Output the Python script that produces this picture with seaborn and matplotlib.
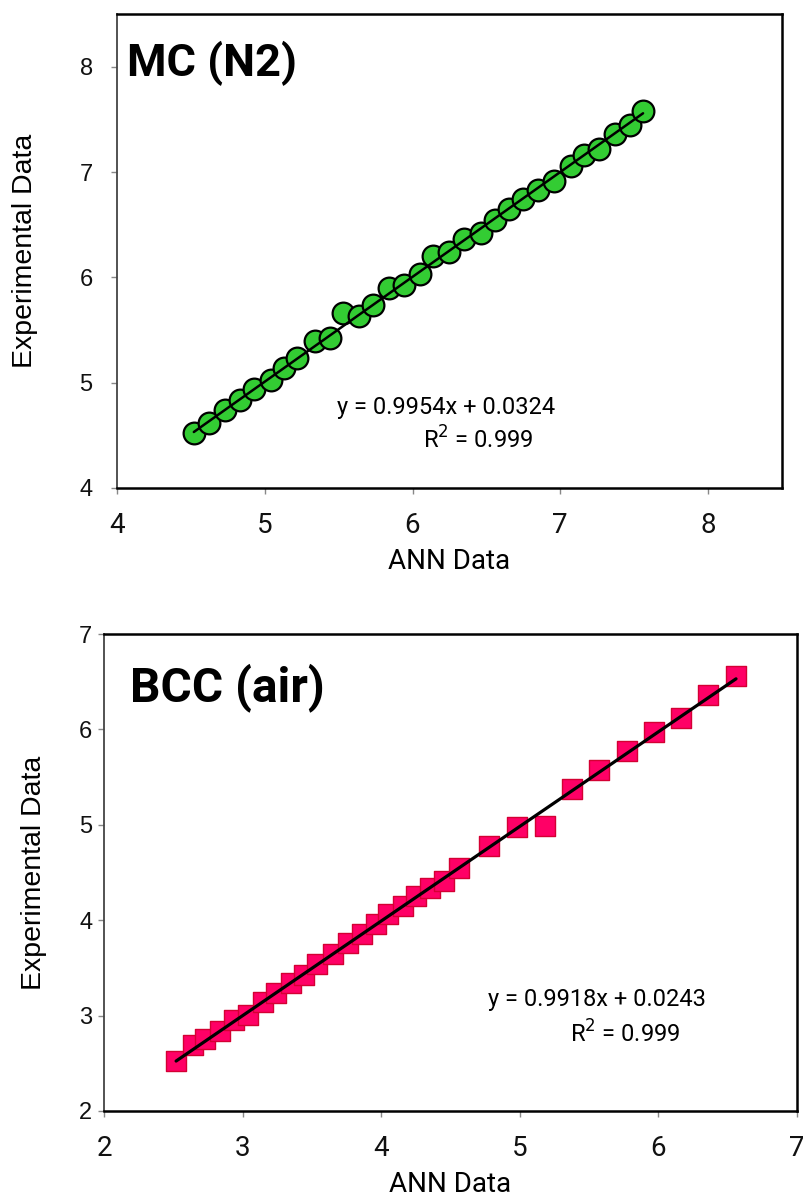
import numpy as np
import pandas as pd
import seaborn as sns
import matplotlib
matplotlib.use("Agg")
import matplotlib.pyplot as plt
from matplotlib import font_manager

# ---- MC (N2) data ----
mc_ann = [4.52, 4.62, 4.73, 4.83, 4.93, 5.04, 5.13, 5.22, 5.34, 5.44, 5.53,
          5.64, 5.73, 5.84, 5.94, 6.05, 6.14, 6.25, 6.35, 6.46, 6.56, 6.65,
          6.75, 6.85, 6.96, 7.07, 7.16, 7.26, 7.37, 7.47, 7.56]
mc_exp = [4.52, 4.62, 4.74, 4.84, 4.94, 5.03, 5.14, 5.23, 5.40, 5.42, 5.66,
          5.63, 5.74, 5.90, 5.93, 6.03, 6.20, 6.24, 6.36, 6.42, 6.54, 6.65,
          6.74, 6.83, 6.91, 7.06, 7.16, 7.22, 7.36, 7.45, 7.58]
mc_slope, mc_intercept, mc_r2 = 0.9954, 0.0324, 0.999

# ---- BCC (air) data ----
bcc_ann = [2.52, 2.64, 2.73, 2.84, 2.94, 3.04, 3.15, 3.24, 3.35, 3.44, 3.54,
           3.65, 3.76, 3.86, 3.96, 4.05, 4.16, 4.25, 4.35, 4.45, 4.56, 4.78,
           4.98, 5.18, 5.38, 5.57, 5.77, 5.97, 6.16, 6.36, 6.56]
bcc_exp = [2.52, 2.69, 2.75, 2.84, 2.95, 3.01, 3.14, 3.24, 3.34, 3.43, 3.54,
           3.65, 3.76, 3.86, 3.96, 4.07, 4.15, 4.25, 4.34, 4.41, 4.55, 4.78,
           4.98, 4.99, 5.38, 5.57, 5.77, 5.97, 6.12, 6.36, 6.56]
bcc_slope, bcc_intercept, bcc_r2 = 0.9918, 0.0243, 0.999

mc_ticks = [4, 5, 6, 7, 8]
bcc_ticks = [2, 3, 4, 5, 6, 7]

sns.set_theme(style="white")

installed = {f.name for f in font_manager.fontManager.ttflist}
narrow = "Liberation Sans Narrow" if "Liberation Sans Narrow" in installed else "Roboto"
plt.rcParams["font.family"] = ["Liberation Sans", "DejaVu Sans"]
plt.rcParams["text.color"] = "black"
plt.rcParams["axes.labelcolor"] = "black"
plt.rcParams["xtick.labelcolor"] = "#111111"
plt.rcParams["ytick.labelcolor"] = "#111111"

fig = plt.figure(figsize=(8.04, 11.99), dpi=100)
ax1 = fig.add_axes([0.1455, 0.593, 0.8271, 0.3953])
ax2 = fig.add_axes([0.1294, 0.0734, 0.8619, 0.3978])


def style_axes(ax, xlim, ylim, xticks, yticks, ypad, ylabelpad):
    ax.set_xlim(*xlim)
    ax.set_ylim(*ylim)
    ax.set_xticks(xticks)
    ax.set_yticks(yticks)
    ax.set_xticklabels([str(t) for t in xticks], fontsize=20, family=narrow)
    ax.set_yticklabels([str(t) for t in yticks], fontsize=17)
    ax.tick_params(axis="both", which="major", direction="out", length=4.5,
                   width=1.0, color="#888888", bottom=True, left=True)
    ax.tick_params(axis="x", pad=13)
    ax.tick_params(axis="y", pad=ypad)
    for side in ["top", "right", "bottom"]:
        ax.spines[side].set_color("black")
        ax.spines[side].set_linewidth(1.8)
    ax.spines["left"].set_color("#444444")
    ax.spines["left"].set_linewidth(1.3)
    ax.set_xlabel("ANN Data", fontsize=20, family=narrow, labelpad=6)
    ax.set_ylabel("Experimental Data", fontsize=20.5, labelpad=ylabelpad)


# ---- top panel ----
df1 = pd.DataFrame({"ann": mc_ann, "exp": mc_exp})
sns.scatterplot(data=df1, x="ann", y="exp", ax=ax1, marker="o", s=245,
                color="#33CC33", edgecolor="black", linewidth=1.6, zorder=3)
fit1 = pd.DataFrame({"ann": [min(mc_ann), max(mc_ann)]})
fit1["exp"] = mc_slope * fit1["ann"] + mc_intercept
sns.lineplot(data=fit1, x="ann", y="exp", ax=ax1, color="black",
             linewidth=1.8, zorder=4)
style_axes(ax1, (4, 8.5), (4, 8.5), mc_ticks, mc_ticks, ypad=13, ylabelpad=30)
ax1.text(0.015, 0.895, "MC (N2)", transform=ax1.transAxes, fontsize=32.5,
         fontweight="bold", family="Roboto", ha="left", va="center")
ax1.text(0.495, 0.169, f"y = {mc_slope}x + {mc_intercept}",
         transform=ax1.transAxes, fontsize=17, family=narrow,
         ha="center", va="center")
ax1.text(0.543, 0.101, f"R$^2$ = {mc_r2}", transform=ax1.transAxes,
         fontsize=17, family=narrow, ha="center", va="center")

# ---- bottom panel ----
df2 = pd.DataFrame({"ann": bcc_ann, "exp": bcc_exp})
sns.scatterplot(data=df2, x="ann", y="exp", ax=ax2, marker="s", s=190,
                color="#FF0066", edgecolor="#D40033", linewidth=1.0, zorder=3)
fit2 = pd.DataFrame({"ann": [min(bcc_ann), max(bcc_ann)]})
fit2["exp"] = bcc_slope * fit2["ann"] + bcc_intercept
sns.lineplot(data=fit2, x="ann", y="exp", ax=ax2, color="black",
             linewidth=2.3, zorder=4)
style_axes(ax2, (2, 7), (2, 7), bcc_ticks, bcc_ticks, ypad=4, ylabelpad=23)
ax2.text(0.038, 0.887, "BCC (air)", transform=ax2.transAxes, fontsize=34.5,
         fontweight="bold", family="Roboto", ha="left", va="center")
ax2.text(0.712, 0.233, f"y = {bcc_slope}x + {bcc_intercept}",
         transform=ax2.transAxes, fontsize=17, family=narrow,
         ha="center", va="center")
ax2.text(0.752, 0.161, f"R$^2$ = {bcc_r2}", transform=ax2.transAxes,
         fontsize=17, family=narrow, ha="center", va="center")

fig.savefig("out.png", dpi=100)
